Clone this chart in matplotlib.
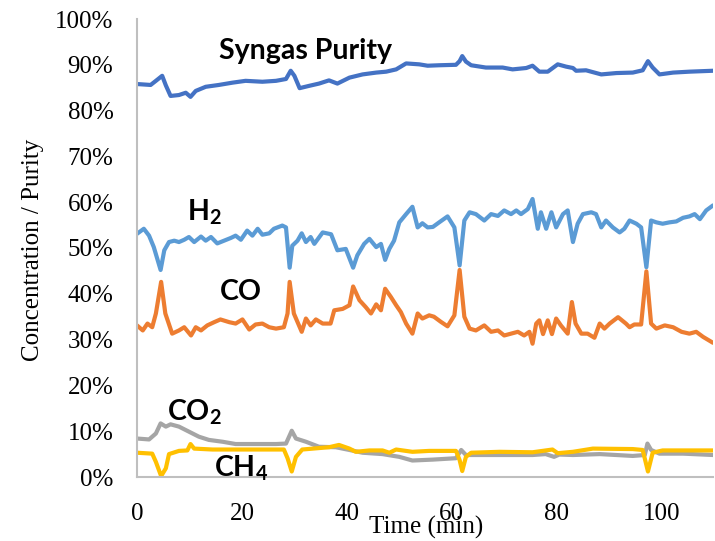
import matplotlib
matplotlib.use("Agg")
import matplotlib.pyplot as plt
from matplotlib.ticker import FuncFormatter

plt.rcParams['mathtext.fontset'] = 'custom'
plt.rcParams['mathtext.bf'] = 'Lato:bold'
plt.rcParams['mathtext.rm'] = 'Lato'

# ---------------- data (time in min, values in %) ----------------
t_purity = [0, 2.6, 3.6, 4.8, 5.5, 6.4, 8.0, 9.3, 10.2, 11.2, 13.1, 15.6, 18.2, 20.7, 23.9, 26.5,
            28.4, 29.3, 30.0, 31.0, 32.8, 34.7, 36.6, 38.2, 40.5, 43.0, 45.6, 47.5, 49.4, 51.3,
            53.8, 55.4, 57.6, 60.8, 61.5, 62.0, 62.7, 63.7, 66.5, 69.7, 71.6, 74.2, 75.4, 76.7,
            78.3, 80.2, 81.8, 83.1, 83.7, 85.6, 88.5, 91.4, 94.5, 96.4, 97.4, 98.3, 99.6, 102.2,
            105.3, 109.8]
purity = [85.8, 85.6, 86.5, 87.6, 85.5, 83.2, 83.4, 83.9, 83.0, 84.3, 85.2, 85.6, 86.1, 86.5, 86.3, 86.5,
          86.9, 88.7, 87.6, 84.9, 85.4, 85.9, 86.6, 85.9, 87.2, 87.9, 88.3, 88.5, 89.0, 90.3,
          90.1, 89.8, 89.9, 90.0, 90.8, 91.9, 90.7, 89.9, 89.4, 89.4, 89.0, 89.3, 89.8, 88.5,
          88.5, 90.1, 89.6, 89.3, 88.7, 88.8, 87.9, 88.2, 88.3, 88.8, 90.8, 89.4, 87.9, 88.3,
          88.5, 88.7]

t_h2 = [0, 1.3, 2.3, 3.2, 4.5, 5.2, 6.1, 7.1, 8.0, 9.0, 9.9, 10.9, 12.2, 13.1, 14.1, 15.3, 16.6,
        17.9, 18.8, 19.8, 21.0, 22.0, 23.0, 23.9, 25.2, 26.1, 27.7, 28.4, 29.1, 29.6, 30.6, 31.4,
        32.2, 33.1, 33.8, 35.4, 37.0, 38.2, 39.8, 41.2, 42.0, 43.3, 44.3, 45.6, 46.5, 47.3, 48.1,
        49.0, 50.0, 51.3, 52.5, 53.5, 54.4, 55.4, 56.4, 57.6, 59.2, 60.5, 61.5, 62.4, 63.4, 64.6,
        66.2, 67.5, 68.8, 70.0, 71.3, 72.3, 73.2, 74.5, 75.4, 76.4, 77.0, 78.0, 79.0, 79.9, 81.2,
        82.1, 83.1, 84.0, 85.0, 86.6, 87.5, 88.5, 89.4, 90.7, 92.0, 92.9, 93.9, 95.2, 96.1, 97.1,
        98.0, 99.0, 100.2, 101.5, 102.8, 104.1, 105.3, 106.3, 107.3, 108.5, 109.8]
h2 = [53.1, 54.2, 52.7, 50.2, 45.2, 49.5, 51.3, 51.6, 51.3, 51.8, 52.4, 51.3, 52.5, 51.6, 52.4, 51.0, 51.6,
      52.2, 52.7, 51.8, 53.8, 52.7, 54.2, 52.9, 53.2, 54.2, 54.9, 54.5, 45.7, 50.5, 51.6, 53.2,
      51.3, 52.4, 50.9, 53.4, 53.0, 49.5, 49.8, 45.7, 48.4, 50.9, 52.0, 50.2, 50.9, 47.4, 49.8,
      51.6, 55.6, 57.4, 59.0, 54.5, 55.4, 54.5, 54.6, 55.6, 56.9, 54.5, 46.2, 56.0, 57.8, 57.4,
      56.0, 57.4, 57.0, 58.2, 57.4, 58.2, 57.4, 58.5, 60.7, 54.2, 57.8, 54.2, 57.8, 54.5, 57.4,
      58.2, 51.3, 55.3, 57.4, 57.8, 57.4, 54.5, 56.0, 54.5, 53.4, 54.2, 56.0, 55.3, 54.5, 45.8,
      56.0, 55.6, 55.3, 55.6, 55.8, 56.6, 56.9, 57.4, 56.3, 58.2, 59.3]

t_co = [0, 1.1, 2.0, 2.9, 3.6, 4.6, 5.4, 6.7, 8.0, 9.0, 10.3, 11.2, 12.2, 13.4, 14.7, 15.9, 17.6,
        18.8, 20.1, 21.4, 22.6, 23.9, 25.2, 26.5, 28.0, 28.7, 29.1, 29.9, 31.4, 32.2, 33.1, 34.1,
        35.4, 36.9, 37.6, 39.2, 40.5, 41.2, 42.4, 43.6, 44.6, 45.6, 46.5, 47.3, 48.4, 49.4, 50.3,
        51.3, 52.5, 53.5, 54.4, 55.7, 56.6, 57.9, 59.2, 60.5, 61.5, 62.4, 63.4, 64.6, 66.2, 67.5,
        68.8, 70.0, 71.3, 72.6, 73.8, 74.8, 75.4, 76.1, 76.7, 77.4, 78.3, 79.1, 79.9, 80.8, 82.1,
        82.9, 83.6, 84.7, 85.9, 87.2, 88.2, 89.1, 90.1, 91.7, 93.2, 93.9, 94.8, 96.1, 97.1, 98.0,
        99.0, 100.6, 102.2, 103.8, 105.3, 106.6, 107.9, 109.8]
co = [33.1, 32.0, 33.5, 32.7, 35.7, 42.6, 35.7, 31.3, 32.0, 32.7, 30.9, 32.7, 32.0, 33.1, 33.8, 34.4, 33.8,
      33.5, 34.4, 32.2, 33.3, 33.5, 32.7, 32.4, 32.7, 35.7, 42.6, 35.7, 31.7, 34.6, 33.1, 34.4,
      33.5, 33.5, 36.4, 36.7, 37.5, 41.6, 38.6, 37.1, 35.7, 37.7, 36.4, 41.1, 39.3, 37.5, 36.0,
      33.5, 31.3, 35.7, 34.6, 35.3, 35.0, 33.9, 32.9, 35.3, 45.2, 35.0, 32.4, 32.0, 33.1, 31.7,
      32.0, 30.9, 31.3, 31.7, 30.9, 31.7, 29.1, 33.5, 34.2, 31.2, 34.2, 31.2, 34.6, 33.1, 31.3,
      38.2, 33.5, 31.3, 31.3, 30.4, 33.5, 32.4, 33.5, 34.9, 33.5, 32.7, 33.3, 33.3, 44.9, 33.5,
      32.4, 33.1, 32.7, 31.7, 31.3, 31.7, 30.6, 29.3]

t_co2 = [0, 2.3, 3.6, 4.5, 5.5, 6.4, 8.0, 9.9, 11.8, 13.7, 16.3, 18.8, 22.6, 26.5, 28.4, 29.5, 30.3,
         32.2, 34.7, 37.9, 40.5, 43.0, 46.8, 50.0, 52.5, 56.4, 60.8, 61.8, 62.7, 66.5, 71.6, 75.4,
         77.9, 79.5, 80.5, 83.1, 88.2, 94.5, 96.8, 97.3, 98.0, 99.6, 104.1, 109.8]
co2 = [8.4, 8.2, 9.5, 11.7, 11.0, 11.5, 11.0, 9.9, 8.8, 8.1, 7.7, 7.2, 7.2, 7.2, 7.3, 10.1, 8.4,
       7.7, 6.6, 6.5, 5.9, 5.3, 5.0, 4.4, 3.6, 3.8, 4.1, 5.9, 4.8, 4.8, 4.8, 4.8,
       5.0, 4.4, 4.9, 4.8, 5.0, 4.6, 4.8, 7.3, 5.9, 5.1, 5.1, 4.8]

t_ch4 = [0, 2.9, 3.6, 4.6, 5.5, 6.1, 8.0, 9.6, 10.2, 10.9, 14.4, 20.7, 28.0, 28.7, 29.5, 30.3, 31.5,
         36.6, 38.5, 40.5, 41.7, 44.3, 46.8, 48.1, 49.4, 52.5, 55.7, 60.8, 61.5, 62.0, 62.7, 63.7,
         69.1, 75.4, 79.2, 80.2, 83.1, 86.9, 94.5, 96.4, 97.4, 98.3, 100.2, 109.8]
ch4 = [5.3, 5.1, 3.3, 0.2, 1.9, 5.0, 5.7, 5.8, 7.2, 6.2, 6.0, 6.0, 6.0, 4.1, 1.2, 4.4, 6.0,
       6.5, 7.0, 6.2, 5.5, 5.8, 5.8, 5.3, 6.0, 5.5, 5.7, 5.7, 3.7, 1.3, 4.4, 5.3,
       5.5, 5.4, 6.0, 5.2, 5.5, 6.2, 6.1, 5.9, 1.2, 5.3, 5.8, 5.8]

x_ticks = [0, 20, 40, 60, 80, 100]
y_ticks = [0, 10, 20, 30, 40, 50, 60, 70, 80, 90, 100]

# ---------------- figure ----------------
fig = plt.figure(figsize=(7.15, 5.41), dpi=100)
ax = fig.add_axes([137 / 715, 1 - 477 / 541, (713 - 137) / 715, (477 - 19) / 541])

lw = 3.0
for tt, vv, c in [(t_purity, purity, '#4472C4'), (t_h2, h2, '#5B9BD5'), (t_co, co, '#ED7D31'),
                  (t_co2, co2, '#A5A5A5'), (t_ch4, ch4, '#FFC000')]:
    ax.plot(tt, vv, color=c, lw=lw, solid_joinstyle='round', solid_capstyle='round')

ax.set_xlim(0, 109.8)
ax.set_ylim(0, 100)
ax.set_xticks(x_ticks)
ax.set_yticks(y_ticks)
ax.yaxis.set_major_formatter(FuncFormatter(lambda v, p: f"{v:.0f}%"))
ax.tick_params(length=0, labelsize=18)
ax.tick_params(axis='y', pad=17)
ax.tick_params(axis='x', pad=19)
for lab in ax.get_xticklabels() + ax.get_yticklabels():
    lab.set_fontfamily('Liberation Serif')

for s in ['top', 'right']:
    ax.spines[s].set_visible(False)
for s in ['left', 'bottom']:
    ax.spines[s].set_color('#BFBFBF')
    ax.spines[s].set_linewidth(1.5)

fig.text(426 / 715, 1 - 527 / 541, 'Time (min)', ha='center', va='center',
         fontsize=18, family='Liberation Serif')
fig.text(33 / 715, 1 - 250 / 541, 'Concentration / Purity', ha='center', va='center',
         rotation=90, fontsize=18, family='Liberation Serif')

kw = dict(ha='center', va='center', fontsize=20.5, fontweight='bold', family='Lato')
ax.text(32.1, 93.0, 'Syngas Purity', **kw)
ax.text(12.8, 57.7, r'$\mathbf{H_2}$', **kw)
ax.text(19.8, 40.3, 'CO', **kw)
ax.text(10.9, 14.2, r'$\mathbf{CO_2}$', **kw)
ax.text(19.8, 2.0, r'$\mathbf{CH_4}$', **kw)

fig.savefig('out.png', dpi=100)
